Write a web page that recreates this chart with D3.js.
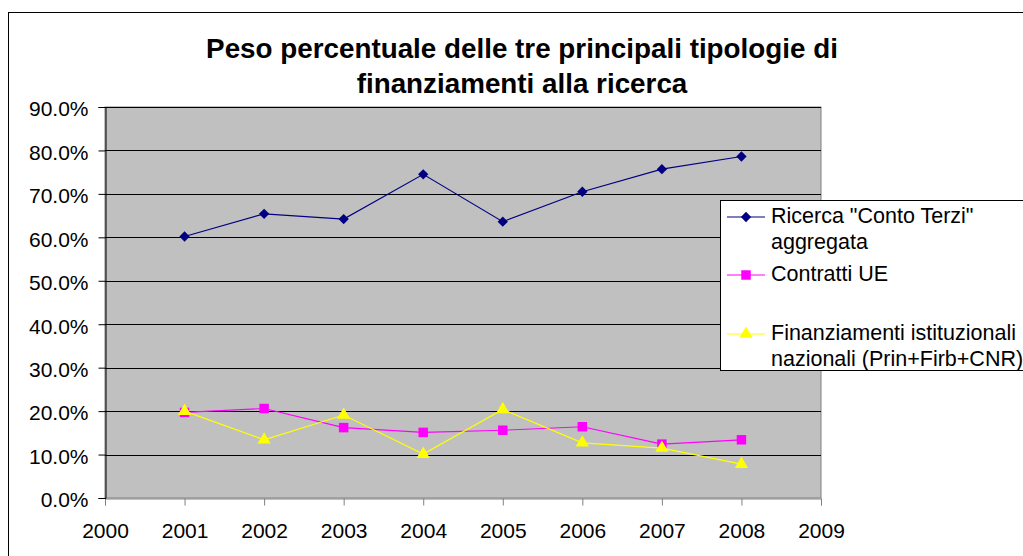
<!DOCTYPE html>
<html>
<head>
<meta charset="utf-8">
<script src="https://cdn.jsdelivr.net/npm/d3@7"></script>
<style>
  body { margin: 0; background: #fff; }
  svg { display: block; font-family: "Liberation Sans", Arial, sans-serif; }
</style>
</head>
<body>
<svg id="chart" width="1023" height="556"></svg>
<script>
// Data
const years = [2001, 2002, 2003, 2004, 2005, 2006, 2007, 2008];
const ricerca = [60.2, 65.4, 64.2, 74.5, 63.6, 70.5, 75.7, 78.6];
const contratti = [19.7, 20.6, 16.2, 15.1, 15.6, 16.4, 12.4, 13.4];
const istituzionali = [20.0, 13.4, 19.1, 10.1, 20.4, 12.7, 11.5, 7.8];
const xTicks = [2000, 2001, 2002, 2003, 2004, 2005, 2006, 2007, 2008, 2009];
const yTicks = [0, 10, 20, 30, 40, 50, 60, 70, 80, 90];
const titleLines = ["Peso percentuale delle tre principali tipologie di", "finanziamenti alla ricerca"];

const series = [
  { name: ["Ricerca \"Conto Terzi\"", "aggregata"], values: ricerca, color: "#000080", symbol: d3.symbolDiamond2, size: 68 },
  { name: ["Contratti UE"], values: contratti, color: "#ff00ff", symbol: d3.symbolSquare, size: 90 },
  { name: ["Finanziamenti istituzionali", "nazionali (Prin+Firb+CNR)"], values: istituzionali, color: "#ffff00", symbol: d3.symbolTriangle, size: 75 }
];

const svg = d3.select("#chart");
const plot = { left: 105, right: 821, top: 107, bottom: 498 };
const font = "Liberation Sans, Arial, sans-serif";

// outer chart border
svg.append("rect")
  .attr("x", 8.5).attr("y", 12.5)
  .attr("width", 1100).attr("height", 700)
  .attr("fill", "#fff").attr("stroke", "#000");

// title
svg.append("g").selectAll("text")
  .data(titleLines)
  .enter().append("text")
  .attr("x", 522).attr("y", (d, i) => 58 + i * 35)
  .attr("text-anchor", "middle")
  .attr("font-size", 27.8).attr("font-weight", "bold")
  .text(d => d);

const x = d3.scaleLinear().domain([2000, 2009]).range([plot.left, plot.right]);
const y = d3.scaleLinear().domain([0, 90]).range([plot.bottom, plot.top]);

// plot background
svg.append("rect")
  .attr("x", plot.left).attr("y", plot.top)
  .attr("width", plot.right - plot.left).attr("height", plot.bottom - plot.top)
  .attr("fill", "#c0c0c0").attr("stroke", "#808080");

// gridlines
svg.append("g").selectAll("line")
  .data(yTicks.filter(d => d > 0))
  .enter().append("line")
  .attr("x1", plot.left).attr("x2", plot.right)
  .attr("y1", d => Math.round(y(d)) + 0.5).attr("y2", d => Math.round(y(d)) + 0.5)
  .attr("stroke", "#000");

// axes
const xAxis = svg.append("g")
  .attr("transform", `translate(0,${plot.bottom + 0.5})`)
  .call(d3.axisBottom(x).tickValues(xTicks).tickFormat(d3.format("d")).tickSize(7).tickPadding(18));
xAxis.select(".domain").attr("stroke", "#808080");
xAxis.selectAll(".tick line").attr("stroke", "#808080");
xAxis.selectAll("text").attr("font-size", 21).attr("font-family", font).attr("fill", "#000");

const yAxis = svg.append("g")
  .attr("transform", `translate(${plot.left + 0.5},0)`)
  .call(d3.axisLeft(y).tickValues(yTicks).tickFormat(d => d.toFixed(1) + "%").tickSize(7).tickPadding(10));
yAxis.select(".domain").attr("stroke", "#000");
yAxis.selectAll("text").attr("font-size", 21).attr("font-family", font).attr("dy", "0.42em").attr("fill", "#000");

// lines and markers
const line = d3.line().x((d, i) => x(years[i])).y(d => y(d));

series.forEach(s => {
  svg.append("path")
    .datum(s.values)
    .attr("d", line)
    .attr("fill", "none")
    .attr("stroke", s.color)
    .attr("stroke-width", 1.2);

  svg.append("g").selectAll("path")
    .data(s.values)
    .enter().append("path")
    .attr("transform", (d, i) => `translate(${x(years[i])},${y(d)})`)
    .attr("d", d3.symbol().type(s.symbol).size(s.size))
    .attr("fill", s.color);
});

// legend
const legend = svg.append("g");
legend.append("rect")
  .attr("x", 720.5).attr("y", 200.5)
  .attr("width", 400).attr("height", 170)
  .attr("fill", "#fff").attr("stroke", "#000");

const legendRows = [217, 275, 334];
series.forEach((s, i) => {
  const ly = legendRows[i];
  legend.append("line")
    .attr("x1", 727).attr("x2", 765)
    .attr("y1", ly).attr("y2", ly)
    .attr("stroke", s.color).attr("stroke-width", 1.2);
  legend.append("path")
    .attr("transform", `translate(746,${ly})`)
    .attr("d", d3.symbol().type(s.symbol).size(s.size))
    .attr("fill", s.color);
  s.name.forEach((t, j) => {
    legend.append("text")
      .attr("x", 771).attr("y", ly + 6 + j * 26)
      .attr("font-size", 21.5)
      .text(t);
  });
});
</script>
</body>
</html>
